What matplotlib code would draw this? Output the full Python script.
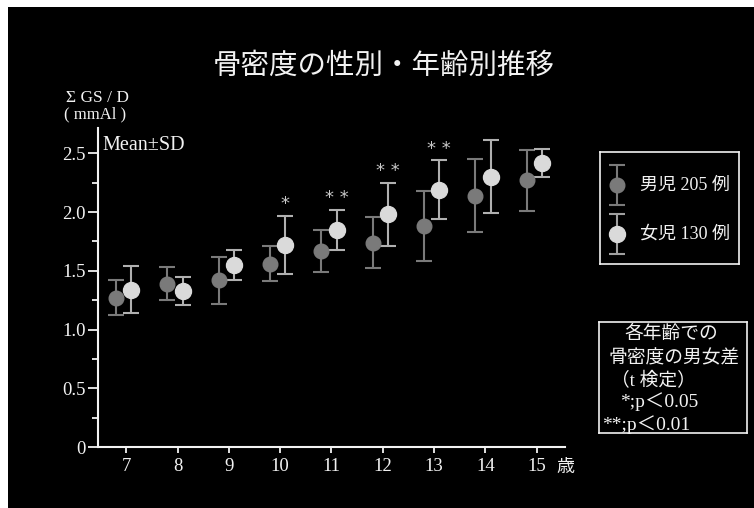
import numpy as np
import matplotlib.pyplot as plt
from matplotlib.patches import Rectangle

# bone density (sum GS / D, mmAl) by age, mean and SD
ages = np.arange(7, 16)
boy_mean = [1.27, 1.39, 1.42, 1.56, 1.67, 1.74, 1.88, 2.14, 2.27]
boy_sd = [0.15, 0.14, 0.20, 0.15, 0.18, 0.22, 0.30, 0.31, 0.26]
girl_mean = [1.34, 1.33, 1.55, 1.72, 1.85, 1.98, 2.19, 2.30, 2.42]
girl_sd = [0.20, 0.12, 0.13, 0.25, 0.17, 0.27, 0.25, 0.31, 0.12]
sig = ['', '', '', '*', '* *', '* *', '* *', '', '']

W, H = 754, 508
SERIF = ['Liberation Serif', 'Noto Sans CJK JP']
CJK = ['Noto Sans CJK JP', 'Liberation Serif']
BOY = '#7a7a7a'
GIRL = '#dadada'
FG = '#f2f2f2'


def fx(px):
    return px / W


def fy(py):
    return 1 - py / H


fig = plt.figure(figsize=(W / 100, H / 100), dpi=100, facecolor='white')
# black slide background with thin white margin on left/top
fig.patches.append(Rectangle((fx(8), 0), 1 - fx(8), fy(7), transform=fig.transFigure,
                             facecolor='black', edgecolor='none', zorder=-10))

ax = fig.add_axes([fx(98), 1 - 447 / H, fx(565 - 98), (447 - 128) / H])
ax.set_facecolor('black')

ax.errorbar(ages - 0.2, boy_mean, yerr=boy_sd, fmt='none', ecolor=BOY,
            elinewidth=1.5, capsize=5.5, capthick=1.5, zorder=2)
ax.plot(ages - 0.2, boy_mean, 'o', color=BOY, markersize=10.5, zorder=3)
ax.errorbar(ages + 0.1, girl_mean, yerr=girl_sd, fmt='none', ecolor='#b0b0b0',
            elinewidth=1.5, capsize=5.5, capthick=1.5, zorder=2)
ax.plot(ages + 0.1, girl_mean, 'o', color=GIRL, markersize=11.5, zorder=3)

for a, m, s, t in zip(ages, girl_mean, girl_sd, sig):
    if t:
        ax.annotate(t, (a + 0.1, m + s), xytext=(0, 2), textcoords='offset points',
                    ha='center', va='bottom', color='#c8c8c8', fontsize=13,
                    family='DejaVu Sans')

ax.set_xlim(6.45, 15.55)
ax.set_ylim(0, 2.715)
ax.set_xticks(ages)
ax.set_xticklabels([str(a) for a in ages], family=SERIF, fontsize=13.5, color=FG)
ax.set_yticks([0, 0.5, 1.0, 1.5, 2.0, 2.5])
ax.set_yticklabels(['0', '0.5', '1.0', '1.5', '2.0', '2.5'], family=SERIF,
                   fontsize=13.5, color=FG)
ax.set_yticks([0.25, 0.75, 1.25, 1.75, 2.25], minor=True)
ax.tick_params(axis='y', which='major', length=7, width=1.3, color=FG, pad=2)
ax.tick_params(axis='y', which='minor', length=4, width=1.3, color=FG)
ax.tick_params(axis='x', length=4, width=1.3, color=FG, pad=4)
for side in ['top', 'right']:
    ax.spines[side].set_visible(False)
for side in ['left', 'bottom']:
    ax.spines[side].set_color(FG)
    ax.spines[side].set_linewidth(1.5)

ax.text(0.01, 0.975, 'Mean±SD', transform=ax.transAxes, ha='left', va='top',
        family=SERIF, fontsize=14.5, color=FG)

fig.text(fx(66), fy(98), 'Σ GS / D', family=SERIF, fontsize=12.5, color=FG,
         ha='left', va='center')
fig.text(fx(64), fy(114), '( mmAl )', family=SERIF, fontsize=12, color=FG,
         ha='left', va='center')
fig.text(fx(565), fy(467), '歳', family=CJK, fontsize=13, color=FG,
         ha='center', va='center')
fig.text(fx(384), fy(66), '骨密度の性別・年齢別推移', family=CJK, fontsize=20.5,
         color=FG, ha='center', va='center')

# legend box
lg = fig.add_axes([fx(600), fy(264), fx(139), 112 / H])
lg.set_facecolor('black')
lg.set_xlim(0, 139)
lg.set_ylim(112, 0)
lg.set_xticks([])
lg.set_yticks([])
for sp in lg.spines.values():
    sp.set_color(FG)
    sp.set_linewidth(1.2)
for yy, col, ecol, ms, label in [(33, BOY, BOY, 10.5, '男児 205 例'),
                                  (82, GIRL, '#a0a0a0', 11.5, '女児 130 例')]:
    lg.errorbar([17], [yy], yerr=[20], fmt='none', ecolor=ecol, elinewidth=1.5,
                capsize=5.5, capthick=1.5)
    lg.plot([17], [yy], 'o', color=col, markersize=ms)
    lg.text(40, yy, label, family=SERIF, fontsize=13, color=FG, ha='left',
            va='center')

# t-test note box
nt = fig.add_axes([fx(599), fy(433), fx(148), 111 / H])
nt.set_facecolor('black')
nt.set_xlim(0, 148)
nt.set_ylim(111, 0)
nt.set_xticks([])
nt.set_yticks([])
for sp in nt.spines.values():
    sp.set_color(FG)
    sp.set_linewidth(1.2)
note_lines = [(25, 11, '各年齢での', CJK, 13.5),
              (10, 36, '骨密度の男女差', CJK, 13.5),
              (12, 59, '（t 検定）', SERIF, 13.5),
              (21, 80, '*;p＜0.05', SERIF, 14),
              (3, 103, '**;p＜0.01', SERIF, 14)]
for x0, y0, s, fam, fs in note_lines:
    nt.text(x0, y0, s, family=fam, fontsize=fs, color=FG, ha='left', va='center')

fig.savefig('out.png', dpi=100, facecolor=fig.get_facecolor())
